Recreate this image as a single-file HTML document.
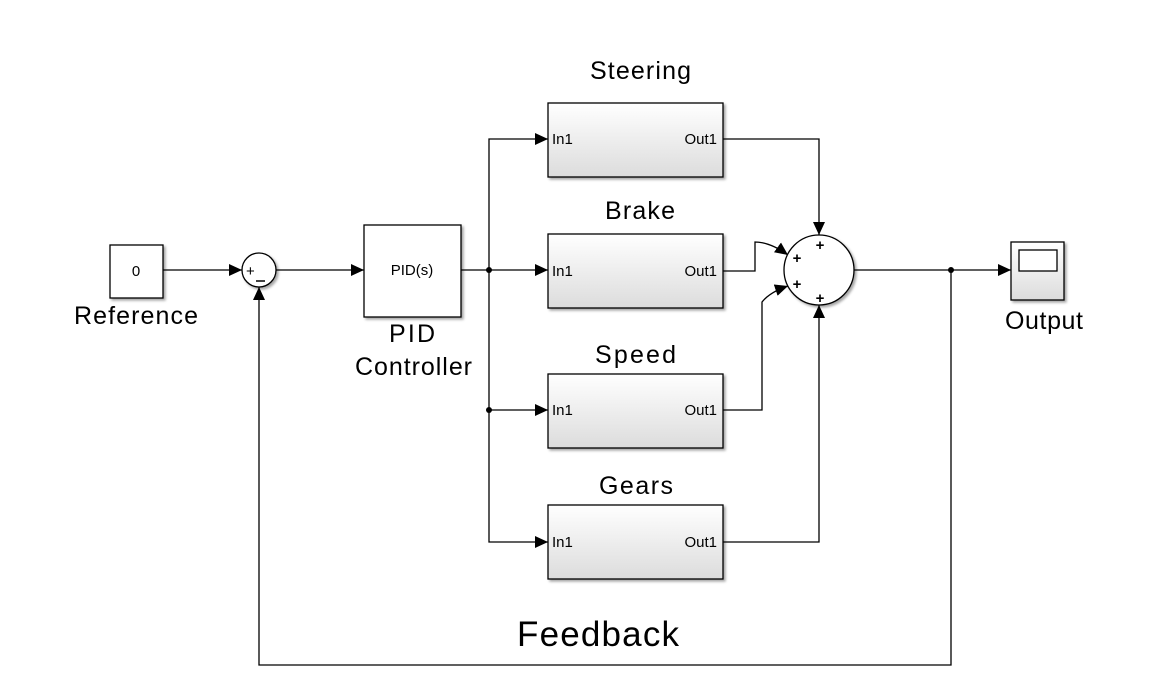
<!DOCTYPE html>
<html><head><style>body{margin:0;background:#fff}svg{display:block}text{font-family:"Liberation Sans",sans-serif}</style></head><body>
<svg width="1158" height="699" viewBox="0 0 1158 699">
<defs>
<linearGradient id="g" x1="0" y1="0" x2="0" y2="1"><stop offset="0" stop-color="#fff"/><stop offset="1" stop-color="#dcdcdc"/></linearGradient>
<filter id="s"><feDropShadow dx="2" dy="2" stdDeviation="1.2" flood-color="#000" flood-opacity="0.35"/></filter>
<marker id="a" markerWidth="13" markerHeight="12" refX="13" refY="6" orient="auto" markerUnits="userSpaceOnUse"><path d="M0,0L13,6L0,12z" fill="#000"/></marker>
</defs>
<g fill="none" stroke="#000" stroke-width="1.3">
<path d="M163,270H242" marker-end="url(#a)"/>
<path d="M276,270H364" marker-end="url(#a)"/>
<path d="M461,270H548" marker-end="url(#a)"/>
<path d="M489,270V139H548" marker-end="url(#a)"/>
<path d="M489,270V542H548" marker-end="url(#a)"/>
<path d="M489,410H548" marker-end="url(#a)"/>
<path d="M723,139H819V235" marker-end="url(#a)"/>
<path d="M723,542H819V305" marker-end="url(#a)"/>
<path d="M723,271H755V242Q770,242 788,255" marker-end="url(#a)"/>
<path d="M723,410H762V302Q770,292 788,286" marker-end="url(#a)"/>
<path d="M854,270H1011" marker-end="url(#a)"/>
<path d="M951,270V665H259V287" marker-end="url(#a)"/>
</g>
<circle cx="489" cy="270" r="3" fill="#000"/><circle cx="489" cy="410" r="3" fill="#000"/><circle cx="951" cy="270" r="3" fill="#000"/>
<g filter="url(#s)" stroke="#000" stroke-width="1.3">
<rect x="110" y="245" width="53" height="53" fill="#fff"/>
<circle cx="259" cy="270" r="17" fill="#fff"/>
<rect x="364" y="225" width="97" height="92" fill="#fff"/>
<rect x="548" y="103" width="175" height="74" fill="url(#g)"/>
<rect x="548" y="234" width="175" height="74" fill="url(#g)"/>
<rect x="548" y="374" width="175" height="74" fill="url(#g)"/>
<rect x="548" y="505" width="175" height="74" fill="url(#g)"/>
<circle cx="819" cy="270" r="35" fill="#fff"/>
<rect x="1011" y="242" width="53" height="58" fill="url(#g)"/>
</g>
<rect x="1019" y="250" width="38" height="21" fill="#fff" stroke="#000" stroke-width="1.3"/>
<line x1="256" y1="281" x2="265" y2="281" stroke="#000" stroke-width="1.5"/>
<g font-size="15" fill="#000">
<text x="136" y="276" text-anchor="middle">0</text>
<text x="412" y="275" text-anchor="middle">PID(s)</text>
<text x="246" y="276">+</text>
<text x="552" y="144">In1</text><text x="717" y="144" text-anchor="end">Out1</text>
<text x="552" y="276">In1</text><text x="717" y="276" text-anchor="end">Out1</text>
<text x="552" y="415">In1</text><text x="717" y="415" text-anchor="end">Out1</text>
<text x="552" y="547">In1</text><text x="717" y="547" text-anchor="end">Out1</text>
<text x="820" y="250" text-anchor="middle" font-weight="bold" font-size="15">+</text>
<text x="797" y="263" text-anchor="middle" font-weight="bold" font-size="15">+</text>
<text x="797" y="289" text-anchor="middle" font-weight="bold" font-size="15">+</text>
<text x="820" y="303" text-anchor="middle" font-weight="bold" font-size="15">+</text>
</g>
<g font-size="25" fill="#000">
<text x="74" y="324" textLength="124">Reference</text>
<text x="389" y="342" textLength="46">PID</text>
<text x="355" y="375" textLength="117">Controller</text>
<text x="590" y="79" textLength="101">Steering</text>
<text x="605" y="219" textLength="70">Brake</text>
<text x="595" y="363" textLength="81">Speed</text>
<text x="599" y="494" textLength="74">Gears</text>
<text x="1005" y="329" textLength="78">Output</text>
<text x="517" y="646" font-size="35" textLength="162">Feedback</text>
</g>
</svg>
</body></html>
